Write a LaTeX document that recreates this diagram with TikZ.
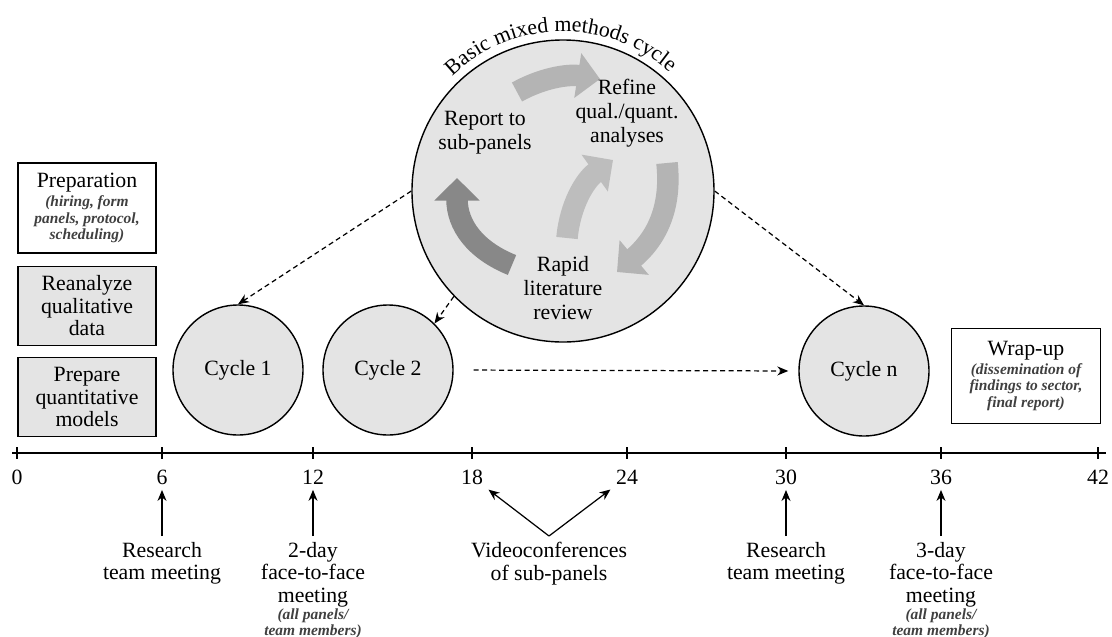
\documentclass[tikz,border=0pt]{standalone}
\usepackage{fontspec}
\setmainfont{Liberation Serif}
\usepackage{tikz}
\usetikzlibrary{positioning, arrows.meta, decorations.text}
\definecolor{fillgray}{HTML}{E4E4E4}
\definecolor{arrlight}{HTML}{B4B4B4}
\definecolor{arrpale}{HTML}{BDBDBD}
\definecolor{arrdark}{HTML}{888888}
\newcommand{\note}[1]{{\fontsize{8.8}{10}\selectfont\bfseries\itshape\color{black!75}#1}}

\tikzset{
  box/.style={draw, line width=0.8pt, align=center, minimum width=27.6mm, inner sep=1pt},
  cyc/.style={circle, draw, line width=0.8pt, fill=fillgray, minimum size=26mm, inner sep=0pt},
  flow/.style={line width=4.3mm, -{Triangle[length=4.5mm, width=8.8mm]}},
  dasharr/.style={->, line width=0.7pt, dash pattern=on 1mm off 0.7mm},
  uparr/.style={->, line width=0.7pt},
  month/.style={inner sep=3pt},
  event/.style={anchor=north, align=center}
}

\begin{document}
\begin{tikzpicture}[x=0.2mm, y=-0.2mm, >={Stealth[length=2.2mm, width=1.8mm]},
    font=\fontsize{12.4}{12.8}\selectfont]
  \useasboundingbox (0,0) rectangle (1112,637);

  % left boxes
  \node[box, minimum height=18mm] (prep) at (87,208)
    {Preparation\\[-2pt]\note{(hiring, form}\\[-3.5pt]\note{panels, protocol,}\\[-3.5pt]\note{scheduling)}};
  \node[box, fill=fillgray, minimum height=15.8mm] (reana) at (87,306) {Reanalyze\\qualitative\\data};
  \node[box, fill=fillgray, minimum height=15.8mm] (prepq) at (87,397) {Prepare\\quantitative\\models};

  % cycles
  \node[cyc] (c1) at (238,370) {Cycle 1};
  \node[cyc] (c2) at (388,370) {Cycle 2};
  \node[cyc] (cn) at (864,371) {Cycle n};

  \node[box, minimum width=29.8mm, minimum height=19mm] (wrap) at (1026,376)
    {Wrap-up\\[-2pt]\note{(dissemination of}\\[-3.5pt]\note{findings to sector,}\\[-3.5pt]\note{final report)}};

  % basic cycle
  \node[circle, draw, line width=0.8pt, fill=fillgray, minimum size=60.4mm, inner sep=0pt] (basic) at (563,191) {};
  \path[decorate, decoration={text along path, text align=center,
      text={|\fontsize{12.4}{13}\selectfont|Basic mixed methods cycle}}]
    (basic.center) ++(170:31.9mm) arc[start angle=170, end angle=12, radius=31.9mm];

  \draw[flow, arrlight] (517,92) .. controls (542,78) and (568,74) .. (600,79);
  \draw[flow, arrlight] (667,163) .. controls (672,210) and (655,240) .. (617,272);
  \draw[flow, arrpale] (567,238) .. controls (570,205) and (585,180) .. (613,160);
  \draw[flow, arrdark] (512,265) .. controls (475,250) and (457,225) .. (457,178);

  \node[align=center, font=\fontsize{12.4}{13.5}\selectfont] (report) at (485,133) {Report to\\sub-panels};
  \node[align=center, font=\fontsize{12.4}{13.5}\selectfont] (refine) at (627,113) {Refine\\qual./quant.\\analyses};
  \node[align=center, font=\fontsize{12.4}{13.5}\selectfont] (rapid) at (563,288) {Rapid\\literature\\review};

  \draw[dasharr] (basic.west) -- (c1.north);
  \draw[dasharr] (basic.224) -- (c2.45);
  \draw[dasharr] (basic.east) -- (cn.north);
  \draw[dasharr, shorten <=4mm, shorten >=2mm] (c2.east) -- (cn.west);

  % time axis
  \draw[line width=0.8pt] (12,453) -- (1106,453);
  \foreach \m/\x in {0/17, 6/162, 12/313, 18/472, 24/627, 30/786, 36/941, 42/1098} {
    \draw[line width=0.8pt] (\x,447) -- (\x,459);
    \node[month] (m\m) at (\x,477) {\m};
  }

  % events
  \node[event] (rtm1) at (162,536) {Research\\team meeting};
  \node[event] (f2f2) at (313,536)
    {2-day\\face-to-face\\meeting\\[-3pt]\note{(all panels/}\\[-3.5pt]\note{team members)}};
  \node[event] (video) at (549,536) {Videoconferences\\of sub-panels};
  \node[event] (rtm2) at (786,536) {Research\\team meeting};
  \node[event] (f2f3) at (941,536)
    {3-day\\face-to-face\\meeting\\[-3pt]\note{(all panels/}\\[-3.5pt]\note{team members)}};

  \draw[uparr] (rtm1) -- (m6);
  \draw[uparr] (f2f2) -- (m12);
  \draw[uparr] (video.north) -- (m18);
  \draw[uparr] (video.north) -- (m24);
  \draw[uparr] (rtm2) -- (m30);
  \draw[uparr] (f2f3) -- (m36);
\end{tikzpicture}
\end{document}
